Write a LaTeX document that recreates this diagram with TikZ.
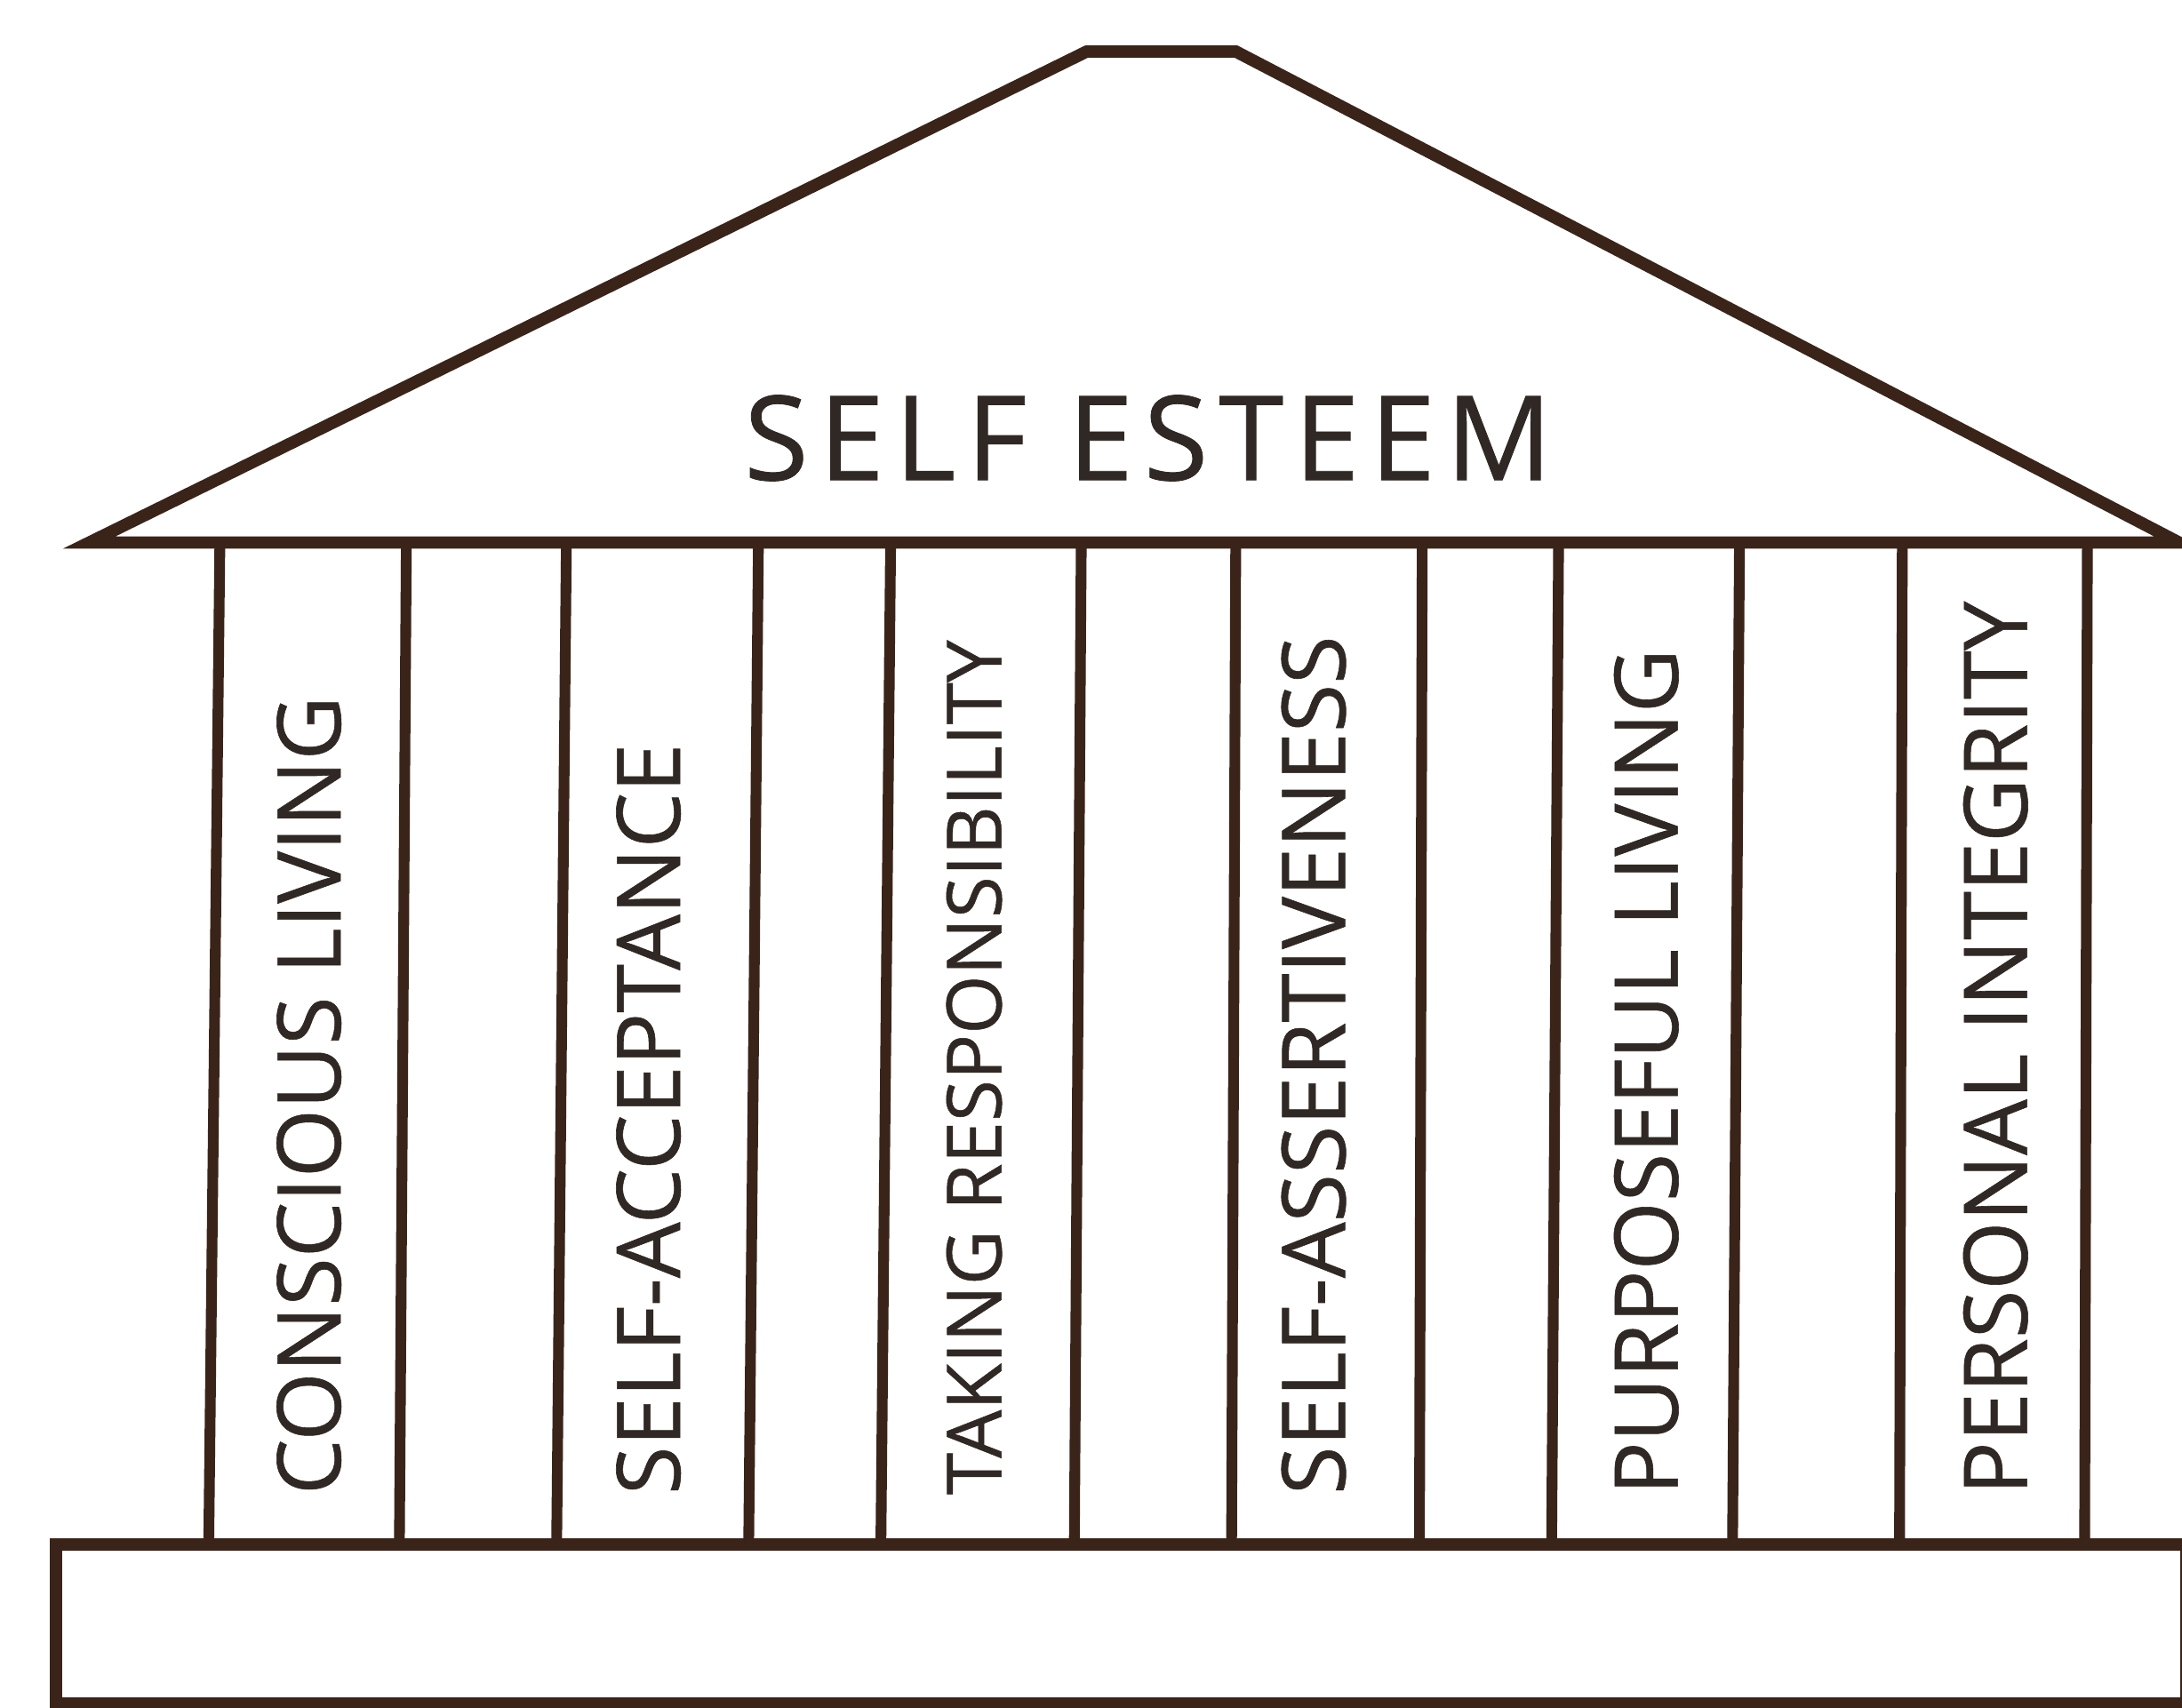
\documentclass[tikz,border=0pt]{standalone}
\usepackage{fontspec}
\setmainfont[FakeBold=0.6]{Open Sans}
\newfontfamily\titlefont[LetterSpace=9,FakeBold=0.6]{Open Sans}
\usepackage{xcolor}
\definecolor{templebrown}{RGB}{58,36,26}
\definecolor{templetext}{RGB}{48,40,36}
\usetikzlibrary{positioning}

\begin{document}
\begin{tikzpicture}[line join=miter,
  outline/.style={draw=templebrown, line width=2.5pt},
  pillar/.style={draw=templebrown, line width=2.2pt},
  pillartext/.style={rotate=90, anchor=west, inner sep=0pt, text=templetext, font=\fontsize{18}{20}\selectfont}]
\useasboundingbox (0,0) rectangle (15.68,12.27);
\fill[white] (0,0) rectangle (15.68,12.27);
% roof
\draw[outline] (0.64,8.37) -- (7.81,11.90) -- (8.88,11.90) -- (15.66,8.37) -- cycle;
\node[anchor=base, inner sep=0pt, text=templetext, font=\titlefont\fontsize{24}{28}\selectfont] (title) at (8.25,8.82) {SELF ESTEEM};
% base
\draw[outline] (0.40,0.03) rectangle (15.71,1.17);
% pillars
\foreach \a/\b in {1.58/1.50, 2.92/2.87, 4.07/4.00, 5.45/5.38, 6.40/6.33, 7.77/7.72,
                   8.88/8.85, 10.22/10.20, 11.20/11.15, 12.50/12.45, 13.67/13.65, 15.00/14.98}
  \draw[pillar] (\a,8.37) -- (\b,1.17);
\node[pillartext] (conscious) at (2.22,1.52) {CONSCIOUS LIVING};
\node[pillartext] (acceptance) at (4.66,1.52) {SELF-ACCEPTANCE};
\node[pillartext, font=\fontsize{15.5}{18}\selectfont] (responsibility) at (7.00,1.52) {TAKING RESPONSIBILITY};
\node[pillartext] (assertiveness) at (9.44,1.52) {SELF-ASSERTIVENESS};
\node[pillartext] (purposeful) at (11.83,1.52) {PURPOSEFUL LIVING};
\node[pillartext] (integrity) at (14.34,1.52) {PERSONAL INTEGRITY};
\end{tikzpicture}
\end{document}
